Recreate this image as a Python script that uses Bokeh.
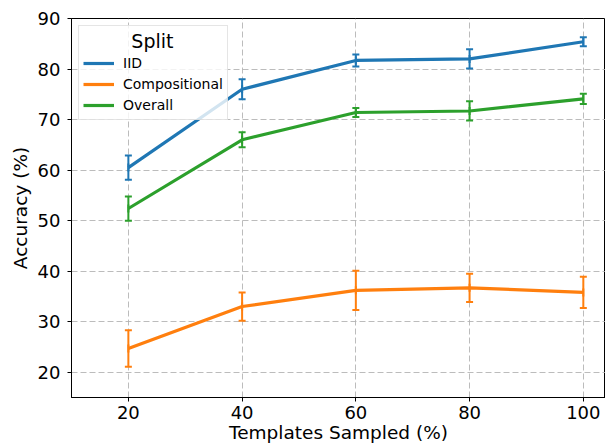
import numpy as np
from bokeh.plotting import figure
from bokeh.models import (ColumnDataSource, Whisker, TeeHead, Legend, LegendItem,
                          FixedTicker, Range1d)
from bokeh.embed import file_html
from bokeh.resources import INLINE

# ---- data ----
templates = [20, 40, 60, 80, 100]
iid_mean = [60.5, 76.0, 81.7, 82.0, 85.4]
iid_err = [2.4, 2.0, 1.2, 1.9, 0.9]
comp_mean = [24.7, 33.0, 36.2, 36.7, 35.8]
comp_err = [3.6, 2.8, 3.9, 2.8, 3.1]
overall_mean = [52.4, 66.0, 71.4, 71.7, 74.1]
overall_err = [2.4, 1.5, 0.9, 1.9, 1.0]
series_names = ["IID", "Compositional", "Overall"]
series_colors = ["#1f77b4", "#ff7f0e", "#2ca02c"]
legend_title = "Split"
x_ticks = [20, 40, 60, 80, 100]
y_ticks = [20, 30, 40, 50, 60, 70, 80, 90]

FONT = "DejaVu Sans"

p = figure(width=605, height=448,
           x_range=Range1d(10, 103.9), y_range=Range1d(15, 90),
           output_backend="svg", toolbar_location=None,
           min_border_left=71, min_border_right=0, min_border_top=18, min_border_bottom=51,
           x_axis_label="Templates Sampled (%)", y_axis_label="Accuracy (%)")

p.background_fill_color = "white"
p.border_fill_color = "white"
p.outline_line_color = "black"
p.outline_line_width = 1

p.xaxis.ticker = FixedTicker(ticks=x_ticks)
p.yaxis.ticker = FixedTicker(ticks=y_ticks)
for ax in (p.xaxis, p.yaxis):
    ax.axis_line_color = "black"
    ax.axis_line_width = 1
    ax.major_tick_line_color = "black"
    ax.major_tick_out = 4
    ax.major_tick_in = 0
    ax.minor_tick_line_color = None
    ax.major_label_text_font = FONT
    ax.major_label_text_font_size = "18px"
    ax.major_label_text_color = "black"
    ax.axis_label_text_font = FONT
    ax.axis_label_text_font_size = "18.5px"
    ax.axis_label_text_font_style = "normal"
    ax.axis_label_text_color = "black"
p.xaxis.major_label_standoff = 4
p.xaxis.axis_label_standoff = 0
p.yaxis.major_label_standoff = 7
p.yaxis.axis_label_standoff = 4

for g in (p.xgrid, p.ygrid):
    g.grid_line_color = "#b0b0b0"
    g.grid_line_alpha = 0.85
    g.grid_line_dash = "6 3"
    g.grid_line_width = 1
p.xgrid.ticker = FixedTicker(ticks=x_ticks)
p.ygrid.ticker = FixedTicker(ticks=y_ticks)

means = [iid_mean, comp_mean, overall_mean]
errs = [iid_err, comp_err, overall_err]
items = []
for name, color, m, e in zip(series_names, series_colors, means, errs):
    src = ColumnDataSource(dict(
        x=templates, y=m,
        lower=[a - b for a, b in zip(m, e)],
        upper=[a + b for a, b in zip(m, e)],
    ))
    line = p.line("x", "y", source=src, line_color=color, line_width=3.2)
    bar = p.scatter("x", "y", source=src, marker="dash", angle=np.pi / 2, size=8,
                    line_color=color, line_width=2)
    w = Whisker(source=src, base="x", lower="lower", upper="upper", dimension="height",
                line_color=color, line_width=2,
                upper_head=TeeHead(size=7, line_color=color, line_width=2),
                lower_head=TeeHead(size=7, line_color=color, line_width=2))
    p.add_layout(w)
    items.append(LegendItem(label=name, renderers=[line, bar]))

# non-breaking spaces push the legend title towards the centre of the box
legend = Legend(items=items, location="top_left", title="\u00a0" * 8 + legend_title,
                margin=7, padding=4, spacing=1,
                label_height=20, glyph_height=20, glyph_width=31,
                label_standoff=9, title_standoff=1,
                label_text_font=FONT, label_text_font_size="14px",
                label_text_color="black",
                title_text_font=FONT, title_text_font_size="19px",
                title_text_font_style="normal", title_text_color="black",
                border_line_color="#cccccc", border_line_width=1,
                background_fill_color="white", background_fill_alpha=0.8)
p.add_layout(legend)

open("out.html", "w").write(file_html(p, INLINE))
